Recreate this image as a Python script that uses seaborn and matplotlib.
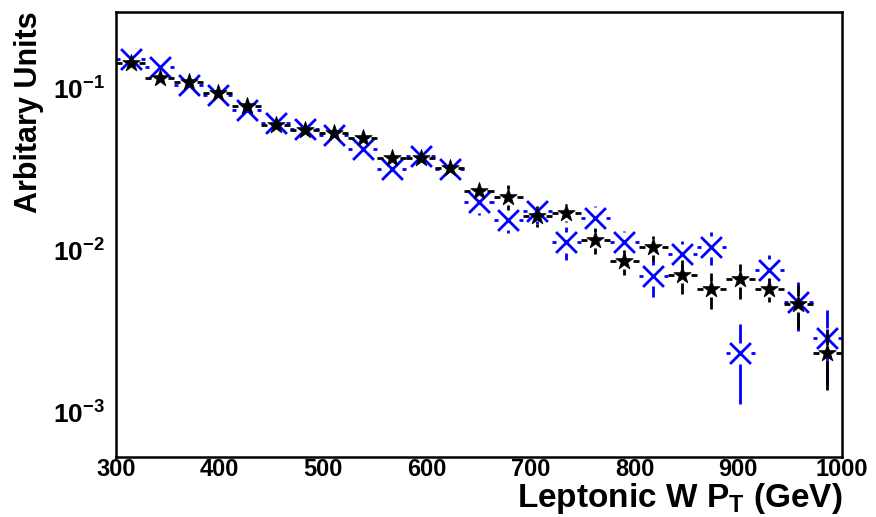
import numpy as np
import pandas as pd
import matplotlib
matplotlib.use("Agg")
import matplotlib.pyplot as plt
import seaborn as sns
from matplotlib.ticker import FixedLocator, MultipleLocator, LogLocator, NullFormatter

# ---------------- data ----------------
bin_centers = [314, 342, 370, 398, 426, 454, 482, 510, 538, 566, 594, 622, 650,
               678, 706, 734, 762, 790, 818, 846, 874, 902, 930, 958, 986]
bin_half_width = 14

black_values = [0.145, 0.117, 0.111, 0.094, 0.078, 0.0598, 0.0553, 0.0537, 0.0496,
                0.0376, 0.0376, 0.0322, 0.0233, 0.0216, 0.0164, 0.0172, 0.0116,
                0.0086, 0.0105, 0.0071, 0.0058, 0.00664, 0.0058, 0.00469, 0.00232]
black_errors = [0.005, 0.0045, 0.0045, 0.004, 0.0037, 0.0033, 0.0032, 0.0032, 0.003,
                0.0027, 0.0027, 0.0025, 0.002, 0.0038, 0.0024, 0.0022, 0.0021,
                0.0015, 0.0019, 0.0017, 0.00143, 0.0016, 0.001, 0.0014, 0.00095]

blue_values = [0.153, 0.137, 0.106, 0.091, 0.074, 0.0615, 0.0564, 0.052, 0.0424,
               0.0318, 0.0385, 0.0318, 0.0199, 0.0155, 0.0176, 0.0113, 0.016,
               0.0113, 0.0070, 0.0095, 0.0106, 0.00232, 0.0076, 0.0048, 0.00288]
blue_errors = [0.007, 0.0065, 0.0055, 0.005, 0.0045, 0.0042, 0.004, 0.0038, 0.0036,
               0.0042, 0.0038, 0.0042, 0.0033, 0.0027, 0.003, 0.0026, 0.0028,
               0.002, 0.0018, 0.0019, 0.0024, 0.0012, 0.0018, 0.0016, 0.0014]

x_ticks = [300, 400, 500, 600, 700, 800, 900, 1000]
x_tick_labels = ["300", "400", "500", "600", "700", "800", "900", "1000"]
y_ticks = [1e-3, 1e-2, 1e-1]
y_tick_labels = [r"$10^{-3}$", r"$10^{-2}$", r"$10^{-1}$"]
x_label = r"Leptonic W P$_{\mathrm{T}}$ (GeV)"
y_label = "Arbitary Units"

# ---------------- style ----------------
sns.set_theme(style="white")
plt.rcParams["font.family"] = ["Liberation Sans", "DejaVu Sans"]
plt.rcParams["font.weight"] = "bold"
plt.rcParams["mathtext.fontset"] = "custom"
plt.rcParams["mathtext.rm"] = "Liberation Sans:bold"
plt.rcParams["mathtext.bf"] = "Liberation Sans:bold"
plt.rcParams["mathtext.it"] = "Liberation Sans:bold"
plt.rcParams["mathtext.sf"] = "Liberation Sans:bold"
plt.rcParams["axes.unicode_minus"] = True

fig = plt.figure(figsize=(8.76, 5.17), dpi=100)
ax = fig.add_axes([0.1324, 0.1161, 0.8288, 0.8613])
ax.set_yscale("log")
ax.set_xlim(300, 1000)
ax.set_ylim(5.3e-4, 0.30)

# pixel -> data conversion for the marker gaps in the error bars
pos = ax.get_position()
w_px = pos.width * fig.get_figwidth() * fig.dpi
h_px = pos.height * fig.get_figheight() * fig.dpi
gev_per_px = (ax.get_xlim()[1] - ax.get_xlim()[0]) / w_px
dec_per_px = np.log10(ax.get_ylim()[1] / ax.get_ylim()[0]) / h_px


def draw_errors(values, errors, color, gap_x_px, gap_y_px, lw, z):
    x = np.asarray(bin_centers, dtype=float)
    v = np.asarray(values, dtype=float)
    e = np.asarray(errors, dtype=float)
    gx = gap_x_px * gev_per_px
    fy = 10 ** (gap_y_px * dec_per_px)
    kw = dict(color=color, linewidth=lw, zorder=z, capstyle="butt")
    ax.hlines(v, x - bin_half_width, x - gx, **kw)
    ax.hlines(v, x + gx, x + bin_half_width, **kw)
    up0, up1 = v * fy, v + e
    m = up1 > up0
    ax.vlines(x[m], up0[m], up1[m], **kw)
    dn0, dn1 = v / fy, v - e
    m = dn1 < dn0
    ax.vlines(x[m], np.maximum(dn1[m], 1e-6), dn0[m], **kw)


df_blue = pd.DataFrame({"pt": bin_centers, "val": blue_values})
df_black = pd.DataFrame({"pt": bin_centers, "val": black_values})

draw_errors(blue_values, blue_errors, "#0000ff", 10.5, 10.5, 2.0, 2)
sns.scatterplot(data=df_blue, x="pt", y="val", marker="x", s=15 ** 2,
                color="#0000ff", linewidth=2.0, ax=ax, zorder=3)
draw_errors(black_values, black_errors, "black", 8.5, 8, 2.0, 4)
sns.scatterplot(data=df_black, x="pt", y="val", marker="*", s=13 ** 2,
                color="black", edgecolor="black", linewidth=0.6, ax=ax, zorder=5)

# ---------------- axes ----------------
for sp in ax.spines.values():
    sp.set_color("black")
    sp.set_linewidth(1.8)

ax.xaxis.set_major_locator(FixedLocator(x_ticks))
ax.set_xticklabels(x_tick_labels)
ax.xaxis.set_minor_locator(MultipleLocator(20))
ax.yaxis.set_major_locator(FixedLocator(y_ticks))
ax.set_yticklabels(y_tick_labels)
ax.yaxis.set_minor_locator(LogLocator(base=10, subs=np.arange(2, 10)))
ax.yaxis.set_minor_formatter(NullFormatter())

ax.tick_params(axis="both", which="both", direction="in", colors="black",
               top=False, right=False)
ax.tick_params(axis="x", which="major", length=11.5, width=1.4, pad=1, labelsize=17)
ax.tick_params(axis="x", which="minor", length=5.8, width=1.2)
ax.tick_params(axis="y", which="major", length=15.8, width=1.4, pad=8, labelsize=19)
ax.tick_params(axis="y", which="minor", length=8, width=1.2)
for lab in ax.get_xticklabels() + ax.get_yticklabels():
    lab.set_fontweight("bold")

ax.set_xlabel(x_label, fontsize=24, fontweight="bold", loc="right", labelpad=0,
              color="black")
ax.set_ylabel(y_label, fontsize=22, fontweight="bold", loc="top", labelpad=6,
              color="black")
ax.grid(False)

fig.savefig("out.png", dpi=100)
